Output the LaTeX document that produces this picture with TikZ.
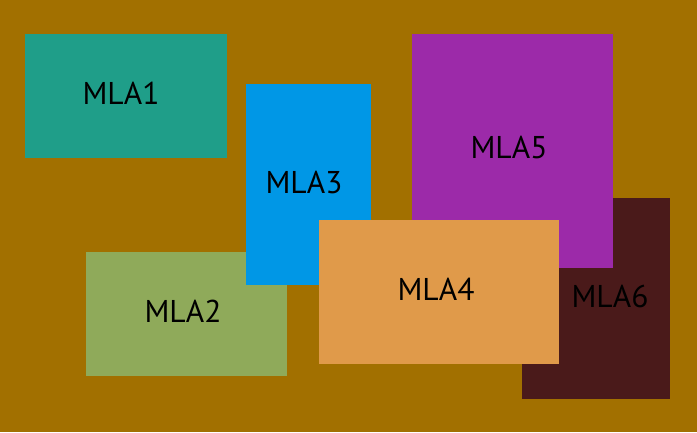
\documentclass[tikz,border=0pt]{standalone}
\usepackage{fontspec}
\setmainfont{PT Sans}
\definecolor{bgbrown}{HTML}{A27000}
\definecolor{mlaA}{HTML}{1F9E89}
\definecolor{mlaB}{HTML}{8FAA5A}
\definecolor{mlaC}{HTML}{0097E6}
\definecolor{mlaD}{HTML}{E09A4A}
\definecolor{mlaE}{HTML}{9C2AA9}
\definecolor{mlaF}{HTML}{4A1A1A}
\begin{document}
\begin{tikzpicture}[
    x=1pt, y=-1pt,
    area/.style={anchor=north west, inner sep=0pt, outer sep=0pt},
    tag/.style={font=\fontsize{31.5}{31.5}\selectfont, text=black},
    ]

    \fill[bgbrown] (0,0) rectangle (697,432);
    \useasboundingbox (0,0) rectangle (697,432);

    % areas, back to front
    \node[area, fill=mlaA, minimum width=202pt, minimum height=124pt] (mla1) at (25,34) {};
    \node[area, fill=mlaB, minimum width=201pt, minimum height=124pt] (mla2) at (86,252) {};
    \node[area, fill=mlaC, minimum width=125pt, minimum height=201pt] (mla3) at (246,84) {};
    \node[area, fill=mlaF, minimum width=148pt, minimum height=201pt] (mla6) at (522,198) {};
    \node[area, fill=mlaE, minimum width=201pt, minimum height=234pt] (mla5) at (412,34) {};
    \node[area, fill=mlaD, minimum width=240pt, minimum height=144pt] (mla4) at (319,220) {};

    % labels
    \node[tag] (lbl1) at (121,93) {MLA1};
    \node[tag] (lbl2) at (183,311) {MLA2};
    \node[tag] (lbl3) at (304,182) {MLA3};
    \node[tag] (lbl4) at (436,289) {MLA4};
    \node[tag] (lbl5) at (509,147) {MLA5};
    \node[tag] (lbl6) at (610,296) {MLA6};

\end{tikzpicture}
\end{document}
